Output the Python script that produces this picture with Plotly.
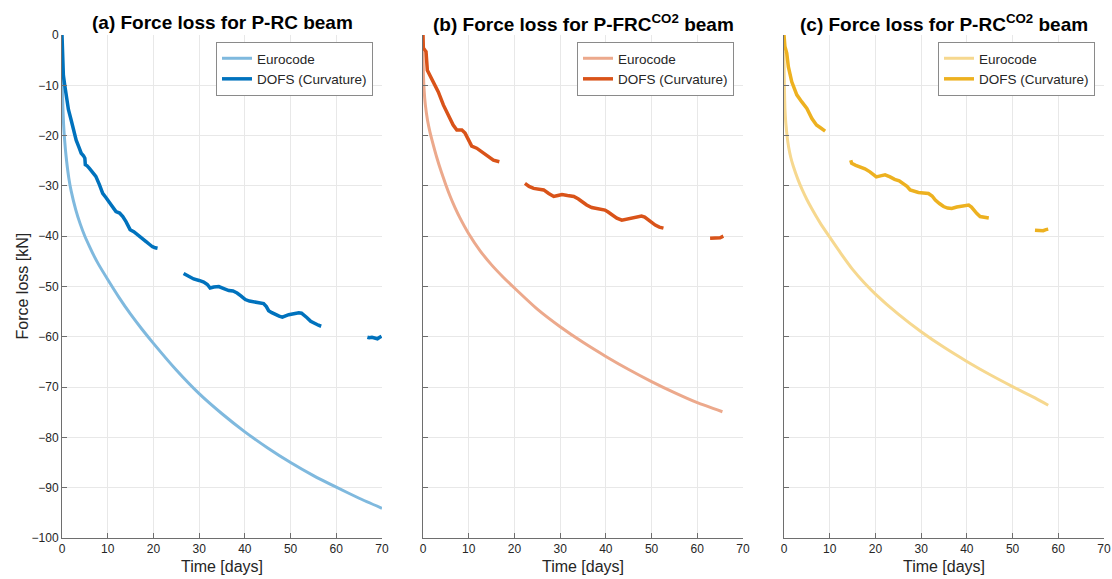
import plotly.graph_objects as go

# ---------------- data ----------------
# Panel (a) P-RC beam
a_euro_t = [0, 0.05, 0.1, 0.2, 0.35, 0.5, 0.75, 1, 1.5, 2, 3, 4, 5, 6, 7, 8, 10, 12.5, 15, 17.5, 20, 25, 30, 35, 40, 45, 50, 55, 60, 65, 70]
a_euro_f = [-3, -8, -11, -14.5, -17.8, -20.0, -22.8, -25.0, -28.5, -31.0, -34.7, -37.6, -40.0, -42.0, -43.9, -45.6, -48.6, -52.2, -55.5, -58.5, -61.3, -66.6, -71.3, -75.3, -78.9, -82.1, -85.0, -87.6, -89.9, -92.1, -94.1]

a_dofs1_t = [0, 0.05, 0.1, 0.3, 0.6, 0.9, 1.4, 2.0, 2.6, 3.1, 3.7, 4.2, 4.7, 5.0, 5.1, 5.5, 6.0, 6.7, 7.4, 8.2, 8.9, 9.6, 10.4, 11.1, 11.8, 12.6, 13.3, 14.0, 14.5, 14.9, 15.7, 16.6, 17.5, 18.4, 19.1, 19.8, 20.4, 20.9]
a_dofs1_f = [0, -3.0, -5.5, -8.0, -10.0, -12.3, -14.8, -16.9, -19.0, -20.9, -22.3, -23.5, -24.0, -24.5, -25.8, -26.0, -26.5, -27.2, -28.1, -29.8, -31.5, -32.3, -33.4, -34.3, -35.1, -35.4, -36.1, -37.1, -38.0, -38.7, -39.1, -39.7, -40.4, -41.1, -41.6, -42.1, -42.3, -42.4]
a_dofs2_t = [26.6, 27.5, 28.8, 30.0, 31.0, 31.8, 32.4, 33.2, 34.3, 35.4, 36.5, 37.4, 38.3, 39.2, 40.1, 41.0, 42.0, 43.0, 44.1, 44.7, 45.2, 45.9, 46.7, 47.5, 48.2, 48.9, 49.6, 50.7, 51.8, 52.4, 52.9, 53.6, 54.4, 55.0, 55.5, 56.1, 56.7]
a_dofs2_f = [-47.4, -47.9, -48.5, -48.8, -49.1, -49.6, -50.3, -50.1, -50.0, -50.4, -50.8, -50.9, -51.3, -51.9, -52.6, -52.9, -53.1, -53.2, -53.4, -54.0, -54.8, -55.2, -55.6, -55.9, -56.1, -55.8, -55.6, -55.4, -55.2, -55.3, -55.6, -56.2, -56.9, -57.2, -57.5, -57.7, -57.9]
a_dofs3_t = [66.8, 67.2, 67.8, 68.3, 69.0, 69.5, 69.9]
a_dofs3_f = [-60.1, -60.2, -60.1, -60.2, -60.4, -60.1, -59.9]

# Panel (b) P-FRC CO2 beam
b_euro_t = [0, 0.05, 0.1, 0.25, 0.5, 1, 1.5, 2, 3, 4, 5, 6, 7, 8, 10, 12.5, 15, 17.5, 20, 25, 30, 35, 40, 45, 50, 55, 60, 65.5]
b_euro_f = [-3.3, -6.0, -8.0, -11.0, -13.8, -17.0, -19.2, -21.0, -24.3, -27.2, -29.8, -32.2, -34.3, -36.2, -39.5, -42.9, -45.7, -48.1, -50.3, -54.5, -58.0, -61.1, -63.9, -66.5, -68.9, -71.1, -73.1, -74.9]

b_dofs1_t = [0, 0.07, 0.4, 0.66, 0.95, 1.6, 2.3, 3.35, 4.45, 5.5, 6.6, 7.4, 8.5, 9.2, 9.9, 10.65, 11.75, 12.8, 13.9, 15.4, 16.7]
b_dofs1_f = [0, -2.6, -3.0, -3.3, -7.0, -8.2, -9.3, -11.3, -13.9, -15.9, -17.9, -18.9, -18.9, -19.5, -20.9, -22.1, -22.5, -23.2, -24.1, -24.9, -25.2]
b_dofs2_t = [22.3, 23.2, 24.2, 25.3, 26.4, 27.5, 28.6, 29.5, 30.4, 31.6, 33.0, 34.0, 34.8, 35.8, 36.9, 38.0, 39.0, 39.8, 40.5, 41.3, 42.4, 43.5, 44.6, 45.7, 46.7, 47.8, 48.5, 49.3, 50.0, 50.8, 51.7, 52.6]
b_dofs2_f = [-29.5, -30.1, -30.5, -30.6, -30.8, -31.5, -32.1, -31.9, -31.7, -31.9, -32.1, -32.6, -33.2, -33.8, -34.3, -34.5, -34.7, -34.8, -35.2, -35.8, -36.4, -36.8, -36.6, -36.4, -36.2, -36.0, -36.2, -36.8, -37.3, -37.8, -38.2, -38.4]
b_dofs3_t = [62.8, 63.5, 64.2, 65.0, 65.7]
b_dofs3_f = [-40.4, -40.4, -40.3, -40.3, -40.0]

# Panel (c) P-RC CO2 beam
c_euro_t = [0, 0.05, 0.1, 0.2, 0.4, 0.7, 1, 1.5, 2, 3, 4, 5, 6, 7, 8, 10, 12.5, 15, 17.5, 20, 25, 30, 35, 40, 45, 50, 55, 57.8]
c_euro_f = [-3.3, -8.0, -11.0, -14.5, -17.5, -20.3, -22.2, -24.4, -26.0, -28.6, -30.8, -32.7, -34.4, -36.0, -37.5, -40.2, -43.5, -46.6, -49.2, -51.5, -55.5, -59.0, -62.1, -64.9, -67.5, -69.9, -72.2, -73.6]

c_dofs1_t = [0, 0.2, 0.6, 0.95, 1.7, 2.8, 3.9, 5.0, 6.1, 7.1, 7.9, 9.0]
c_dofs1_f = [0, -2.3, -3.6, -6.3, -9.3, -11.9, -13.3, -14.6, -16.6, -17.9, -18.4, -19.1]
c_dofs2_t = [14.6, 14.8, 15.7, 16.6, 17.7, 18.8, 19.5, 20.2, 21.1, 22.1, 23.2, 24.2, 25.2, 26.1, 26.9, 27.6, 28.5, 29.4, 30.5, 31.6, 32.4, 33.1, 34.0, 34.9, 35.8, 36.7, 37.8, 38.9, 39.6, 40.4, 41.0, 41.5, 42.2, 42.9, 43.8, 44.8]
c_dofs2_f = [-24.9, -25.5, -25.9, -26.2, -26.6, -27.2, -27.6, -28.2, -28.0, -27.8, -28.2, -28.7, -29.0, -29.5, -30.1, -30.8, -31.1, -31.3, -31.4, -31.5, -32.0, -32.8, -33.5, -34.1, -34.4, -34.5, -34.2, -34.0, -33.8, -33.8, -34.2, -34.8, -35.5, -36.1, -36.3, -36.4]
c_dofs3_t = [54.9, 55.8, 56.7, 57.3, 57.8]
c_dofs3_f = [-38.8, -38.8, -38.9, -38.7, -38.6]

titles = ["<b>(a) Force loss for P-RC beam</b>",
          "<b>(b) Force loss for P-FRC<sup>CO2</sup> beam</b>",
          "<b>(c) Force loss for P-RC<sup>CO2</sup> beam</b>"]
legend_names = ["Eurocode", "DOFS (Curvature)"]
x_title = "Time [days]"
y_title = "Force loss [kN]"
x_ticks = [0, 10, 20, 30, 40, 50, 60, 70]
y_ticks = [0, -10, -20, -30, -40, -50, -60, -70, -80, -90, -100]

# ---------------- styles ----------------
dark = ["#0072BD", "#D95319", "#EDB120"]
light = ["#7FB9DE", "#ECA98C", "#F6D88F"]
FONT = "Liberation Sans, Arial, Helvetica, sans-serif"
TXT = "#262626"

def join(*segs):
    xs, ys = [], []
    for i in range(0, len(segs), 2):
        if xs:
            xs.append(None); ys.append(None)
        xs += segs[i]; ys += segs[i + 1]
    return xs, ys

panels = [
    (a_euro_t, a_euro_f, join(a_dofs1_t, a_dofs1_f, a_dofs2_t, a_dofs2_f, a_dofs3_t, a_dofs3_f)),
    (b_euro_t, b_euro_f, join(b_dofs1_t, b_dofs1_f, b_dofs2_t, b_dofs2_f, b_dofs3_t, b_dofs3_f)),
    (c_euro_t, c_euro_f, join(c_dofs1_t, c_dofs1_f, c_dofs2_t, c_dofs2_f, c_dofs3_t, c_dofs3_f)),
]

W, H = 1112, 579
ML, MR, MT, MB = 62, 8, 35, 41
PW, PH = W - ML - MR, H - MT - MB
px_left = [62, 423, 784]
panel_w = 320

fig = go.Figure()
layout = dict(
    width=W, height=H,
    margin=dict(l=ML, r=MR, t=MT, b=MB, autoexpand=False),
    paper_bgcolor="white", plot_bgcolor="white",
    font=dict(family=FONT, size=12, color=TXT),
    annotations=[],
)

for i, (et, ef, (dt, df)) in enumerate(panels):
    sfx = "" if i == 0 else str(i + 1)
    leg = "legend" if i == 0 else f"legend{i + 1}"
    fig.add_trace(go.Scatter(x=et, y=ef, mode="lines", name=legend_names[0],
                             line=dict(color=light[i], width=3, shape="spline", smoothing=0.5),
                             xaxis="x" + sfx, yaxis="y" + sfx, legend=leg))
    fig.add_trace(go.Scatter(x=dt, y=df, mode="lines", name=legend_names[1],
                             line=dict(color=dark[i], width=3.5), connectgaps=False,
                             xaxis="x" + sfx, yaxis="y" + sfx, legend=leg))
    d0 = (px_left[i] - ML) / PW
    d1 = (px_left[i] + panel_w - ML) / PW
    axcommon = dict(showline=True, linecolor="#6e6e6e", linewidth=1, mirror=False,
                    ticks="inside", ticklen=5, tickcolor="#6e6e6e", tickwidth=1,
                    showgrid=True, gridcolor="#e8e8e8", gridwidth=1, zeroline=False,
                    automargin=False,
                    tickfont=dict(family=FONT, size=12, color=TXT))
    layout["xaxis" + sfx] = dict(axcommon, domain=[d0, d1], range=[0, 70], tickvals=x_ticks,
                                 anchor="y" + sfx,
                                 title=dict(text=x_title, font=dict(family=FONT, size=16, color=TXT),
                                            standoff=5))
    layout["yaxis" + sfx] = dict(axcommon, domain=[0, 1], range=[-100, 0], tickvals=y_ticks,
                                 anchor="x" + sfx, showticklabels=(i == 0))
    layout[leg] = dict(xref="container", yref="container",
                       x=(px_left[i] + panel_w - 9) / W, y=1 - 42 / H,
                       xanchor="right", yanchor="top",
                       bgcolor="white", bordercolor="#8a8a8a", borderwidth=1,
                       font=dict(family=FONT, size=13.5, color=TXT),
                       itemwidth=30, tracegroupgap=0)
    layout["annotations"].append(dict(
        text=titles[i], xref="paper", yref="paper",
        x=(d0 + d1) / 2, y=1 + 12 / PH, xanchor="center", yanchor="middle",
        showarrow=False, font=dict(family=FONT, size=19, color="black")))

layout["annotations"].append(dict(
    text=y_title, xref="paper", yref="paper", x=-40 / PW, y=0.5,
    xanchor="center", yanchor="middle", textangle=-90, showarrow=False,
    font=dict(family=FONT, size=16, color=TXT)))

fig.update_layout(**layout)
fig.write_html("out.html")
